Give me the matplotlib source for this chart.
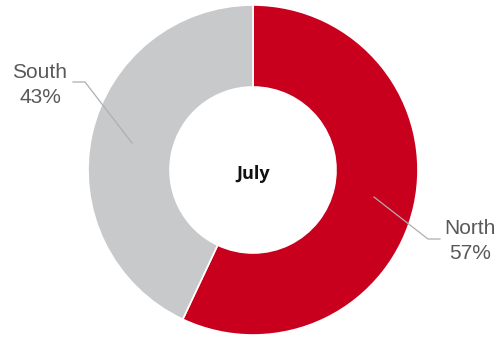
import numpy as np
import matplotlib
matplotlib.use("Agg")
import matplotlib.pyplot as plt

# Regional share for the month
regions = ["North", "South"]
shares = [57, 43]
colors = ["#C8001E", "#C8C9CB"]
center_title = "July"

W, H = 500, 340
fig = plt.figure(figsize=(W / 100, H / 100), dpi=100)
ax = fig.add_axes([0, 0, 1, 1])

cx, cy = 253, H - 170
r_out = 165
ring = 82

wedges, _ = ax.pie(
    shares, colors=colors, startangle=90, counterclock=False,
    radius=r_out, center=(cx, cy), frame=True,
    wedgeprops=dict(width=ring, edgecolor="white", linewidth=1.2),
)
ax.set_xlim(0, W)
ax.set_ylim(0, H)
ax.set_aspect("equal")
ax.axis("off")

ax.text(cx, H - 174, center_title, ha="center", va="center",
        fontsize=13, fontweight="bold", family="Open Sans", color="#111111")

# Leader lines and labels
label_font = dict(family="Liberation Sans", fontsize=15, color="#595959",
                  ha="center", va="center", linespacing=1.42)
r_mid = r_out - ring / 2
line_kw = dict(color="#AFAFAF", lw=0.9)
for w, name, val in zip(wedges, regions, shares):
    ang = np.deg2rad((w.theta1 + w.theta2) / 2)
    x0 = cx + r_mid * np.cos(ang)
    y0 = cy + r_mid * np.sin(ang)
    if np.cos(ang) > 0:
        elbow = (428, H - 239)
        end = (440, H - 239)
        tx, ty = 470, H - 241
    else:
        elbow = (85, H - 82)
        end = (73, H - 82)
        tx, ty = 40, H - 85
    ax.plot([x0, elbow[0], end[0]], [y0, elbow[1], end[1]], **line_kw)
    ax.text(tx, ty, f"{name}\n{val}%", **label_font)

fig.savefig("out.png", dpi=100)
